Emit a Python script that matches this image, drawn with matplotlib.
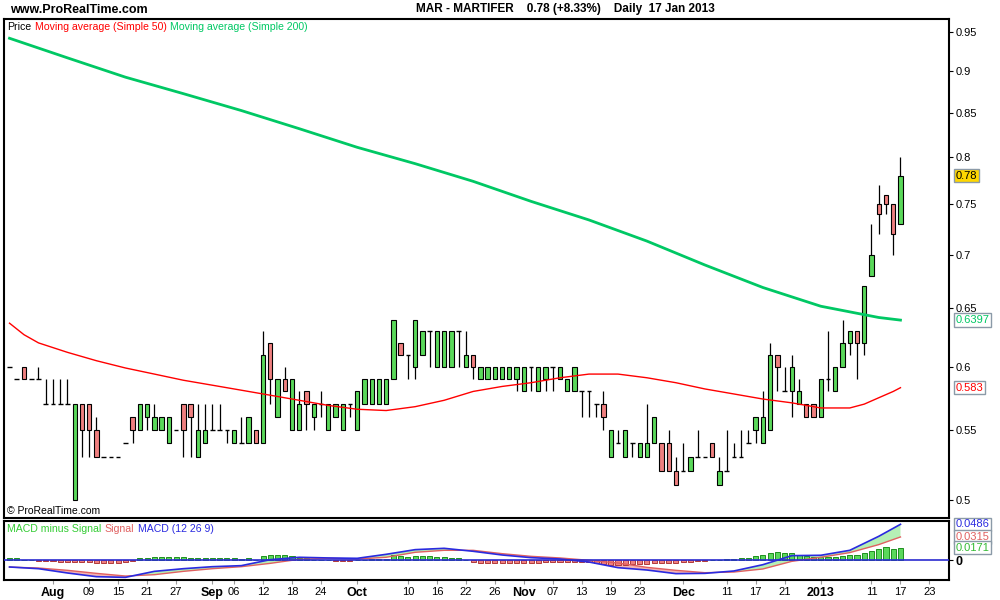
import numpy as np
import matplotlib
matplotlib.use("Agg")
import matplotlib.pyplot as plt
import matplotlib.transforms as mtrans
from matplotlib.ticker import FixedLocator, FixedFormatter, NullLocator, NullFormatter
from matplotlib.offsetbox import TextArea, HPacker, AnchoredOffsetbox

plt.rcParams['font.family'] = ['Liberation Sans', 'DejaVu Sans']

# Daily candles, MAR - MARTIFER, late Jul 2012 .. 17 Jan 2013
opens = [
    0.60, 0.59, 0.60, 0.59, 0.59, 0.57, 0.57, 0.57, 0.57, 0.50,
    0.57, 0.57, 0.55, 0.53, 0.53, 0.53, 0.54, 0.56, 0.55, 0.56,
    0.55, 0.55, 0.54, 0.55, 0.57, 0.57, 0.53, 0.54, 0.55, 0.55,
    0.55, 0.54, 0.54, 0.54, 0.55, 0.54, 0.62, 0.56, 0.59, 0.55,
    0.55, 0.58, 0.56, 0.57, 0.55, 0.56, 0.55, 0.57, 0.55, 0.57,
    0.57, 0.57, 0.57, 0.59, 0.62, 0.61, 0.60, 0.61, 0.63, 0.60,
    0.60, 0.60, 0.63, 0.60, 0.61, 0.59, 0.59, 0.59, 0.59, 0.59,
    0.59, 0.58, 0.60, 0.58, 0.59, 0.60, 0.59, 0.58, 0.58, 0.58,
    0.58, 0.57, 0.57, 0.53, 0.54, 0.53, 0.54, 0.53, 0.53, 0.54,
    0.54, 0.54, 0.52, 0.52, 0.52, 0.53, 0.53, 0.54, 0.51, 0.52,
    0.53, 0.53, 0.54, 0.55, 0.54, 0.55, 0.61, 0.58, 0.58, 0.57,
    0.57, 0.57, 0.56, 0.59, 0.58, 0.60, 0.62, 0.63, 0.62, 0.68,
    0.75, 0.76, 0.75, 0.73]
highs = [
    0.60, 0.59, 0.60, 0.59, 0.60, 0.59, 0.59, 0.59, 0.59, 0.57,
    0.57, 0.57, 0.56, 0.53, 0.53, 0.53, 0.54, 0.56, 0.57, 0.57,
    0.57, 0.56, 0.56, 0.55, 0.57, 0.57, 0.57, 0.57, 0.57, 0.57,
    0.55, 0.55, 0.56, 0.56, 0.55, 0.63, 0.62, 0.59, 0.60, 0.59,
    0.58, 0.58, 0.57, 0.58, 0.57, 0.57, 0.57, 0.57, 0.58, 0.59,
    0.59, 0.59, 0.59, 0.64, 0.62, 0.61, 0.64, 0.63, 0.63, 0.63,
    0.63, 0.63, 0.63, 0.63, 0.61, 0.60, 0.60, 0.60, 0.60, 0.60,
    0.60, 0.60, 0.60, 0.60, 0.60, 0.60, 0.60, 0.59, 0.60, 0.58,
    0.58, 0.57, 0.58, 0.55, 0.55, 0.55, 0.54, 0.54, 0.57, 0.56,
    0.54, 0.55, 0.53, 0.54, 0.53, 0.55, 0.53, 0.54, 0.53, 0.55,
    0.54, 0.55, 0.55, 0.56, 0.58, 0.62, 0.61, 0.60, 0.61, 0.59,
    0.57, 0.57, 0.59, 0.63, 0.60, 0.64, 0.63, 0.63, 0.67, 0.73,
    0.77, 0.76, 0.75, 0.80]
lows = [
    0.60, 0.59, 0.59, 0.59, 0.59, 0.57, 0.57, 0.57, 0.57, 0.50,
    0.53, 0.53, 0.53, 0.53, 0.53, 0.53, 0.54, 0.54, 0.55, 0.55,
    0.55, 0.55, 0.54, 0.55, 0.53, 0.53, 0.53, 0.54, 0.55, 0.55,
    0.54, 0.54, 0.54, 0.54, 0.54, 0.54, 0.57, 0.56, 0.58, 0.55,
    0.55, 0.55, 0.55, 0.56, 0.55, 0.56, 0.55, 0.56, 0.55, 0.57,
    0.57, 0.57, 0.57, 0.59, 0.61, 0.59, 0.59, 0.61, 0.60, 0.60,
    0.60, 0.60, 0.60, 0.60, 0.59, 0.59, 0.59, 0.59, 0.59, 0.59,
    0.58, 0.58, 0.58, 0.58, 0.58, 0.58, 0.59, 0.58, 0.58, 0.56,
    0.56, 0.56, 0.55, 0.53, 0.54, 0.53, 0.53, 0.53, 0.53, 0.54,
    0.52, 0.52, 0.51, 0.52, 0.52, 0.53, 0.53, 0.53, 0.51, 0.52,
    0.53, 0.53, 0.54, 0.54, 0.54, 0.55, 0.58, 0.58, 0.56, 0.57,
    0.56, 0.56, 0.56, 0.58, 0.58, 0.60, 0.61, 0.59, 0.61, 0.68,
    0.72, 0.74, 0.70, 0.73]
closes = [
    0.60, 0.59, 0.59, 0.59, 0.59, 0.57, 0.57, 0.57, 0.57, 0.57,
    0.55, 0.55, 0.53, 0.53, 0.53, 0.53, 0.54, 0.55, 0.57, 0.57,
    0.56, 0.56, 0.56, 0.55, 0.55, 0.56, 0.55, 0.55, 0.55, 0.55,
    0.55, 0.55, 0.54, 0.56, 0.54, 0.61, 0.59, 0.59, 0.58, 0.59,
    0.57, 0.57, 0.57, 0.57, 0.57, 0.57, 0.57, 0.57, 0.58, 0.59,
    0.59, 0.59, 0.59, 0.64, 0.61, 0.61, 0.64, 0.63, 0.63, 0.63,
    0.63, 0.63, 0.63, 0.61, 0.60, 0.60, 0.60, 0.60, 0.60, 0.60,
    0.60, 0.60, 0.60, 0.60, 0.60, 0.60, 0.60, 0.59, 0.60, 0.58,
    0.58, 0.57, 0.56, 0.55, 0.54, 0.55, 0.54, 0.54, 0.54, 0.56,
    0.52, 0.52, 0.51, 0.52, 0.53, 0.53, 0.53, 0.53, 0.52, 0.52,
    0.53, 0.53, 0.54, 0.56, 0.56, 0.61, 0.60, 0.58, 0.60, 0.58,
    0.56, 0.56, 0.59, 0.59, 0.60, 0.62, 0.63, 0.62, 0.67, 0.70,
    0.74, 0.75, 0.72, 0.78]

# moving averages (bar index, value)
ma50_idx = [0, 2, 4, 8, 12, 16, 20, 24, 28, 32, 36, 40, 44, 48, 52, 56, 60, 64,
            68, 72, 76, 80, 84, 88, 92, 96, 100, 104, 108, 112, 116, 118, 120, 122, 123]
ma50 = [0.637, 0.627, 0.620, 0.612, 0.605, 0.599, 0.594, 0.589, 0.585, 0.581,
        0.577, 0.573, 0.569, 0.566, 0.565, 0.568, 0.573, 0.580, 0.584, 0.587,
        0.591, 0.594, 0.594, 0.591, 0.587, 0.582, 0.578, 0.574, 0.571, 0.567,
        0.567, 0.570, 0.575, 0.580, 0.583]
ma200_idx = [0, 8, 16, 24, 32, 40, 48, 56, 64, 72, 80, 88, 96, 104, 112, 120, 123]
ma200 = [0.942, 0.917, 0.893, 0.873, 0.853, 0.832, 0.811, 0.793, 0.774, 0.753,
         0.734, 0.713, 0.690, 0.669, 0.652, 0.642, 0.6397]

# MACD (12 26 9)
macd_idx = [0, 4, 8, 12, 16, 20, 24, 28, 32, 36, 40, 44, 48, 52, 56, 60, 64, 68,
            72, 76, 80, 84, 88, 92, 96, 100, 104, 108, 112, 116, 120, 123]
macd = [-0.0090, -0.0113, -0.0171, -0.0221, -0.0230, -0.0149, -0.0113, -0.0086,
        -0.0072, 0.0009, 0.0041, 0.0032, 0.0027, 0.0081, 0.0144, 0.0162, 0.0122,
        0.0072, 0.0036, 0.0018, -0.0023, -0.0099, -0.0131, -0.0180, -0.0176,
        -0.0144, -0.0059, 0.0063, 0.0068, 0.0135, 0.0324, 0.0486]
signal = [-0.0092, -0.0104, -0.0135, -0.0176, -0.0212, -0.0194, -0.0149, -0.0113,
          -0.0086, -0.0041, 0.0014, 0.0027, 0.0018, 0.0041, 0.0108, 0.0135, 0.0135,
          0.0090, 0.0054, 0.0032, 0.0000, -0.0036, -0.0095, -0.0135, -0.0167,
          -0.0158, -0.0117, -0.0014, 0.0041, 0.0104, 0.0212, 0.0315]
hist = [
    0.0027, 0.0027, 0.0004, 0.0003, -0.0004, -0.0007, -0.0014, -0.0018, -0.0020, -0.0020,
    -0.0027, -0.0027, -0.0041, -0.0041, -0.0041, -0.0041, -0.0027, -0.0004, 0.0027, 0.0037,
    0.0041, 0.0041, 0.0041, 0.0041, 0.0041, 0.0037, 0.0031, 0.0031, 0.0027, 0.0027,
    0.0027, 0.0027, 0.0018, 0.0027, 0.0007, 0.0058, 0.0078, 0.0078, 0.0078, 0.0054,
    0.0037, 0.0037, 0.0010, 0.0004, 0.0003, -0.0003, -0.0004, -0.0004, 0.0004, 0.0007,
    0.0014, 0.0018, 0.0014, 0.0068, 0.0054, 0.0041, 0.0054, 0.0054, 0.0054, 0.0045,
    0.0045, 0.0031, 0.0031, 0.0004, -0.0027, -0.0037, -0.0037, -0.0041, -0.0041, -0.0041,
    -0.0041, -0.0041, -0.0031, -0.0031, -0.0027, -0.0027, -0.0023, -0.0018, -0.0018, -0.0023,
    -0.0027, -0.0037, -0.0045, -0.0064, -0.0064, -0.0058, -0.0054, -0.0050, -0.0045, -0.0037,
    -0.0037, -0.0031, -0.0031, -0.0027, -0.0023, -0.0010, -0.0003, 0.0003, 0.0005, 0.0014,
    0.0014, 0.0027, 0.0027, 0.0054, 0.0068, 0.0095, 0.0109, 0.0095, 0.0095, 0.0078,
    0.0054, 0.0041, 0.0041, 0.0041, 0.0041, 0.0054, 0.0068, 0.0068, 0.0095, 0.0122,
    0.0150, 0.0177, 0.0150, 0.0171]

# x axis labels and the bar index they sit on
tick_labels = ["Aug", "09", "15", "21", "27", "Sep", "06", "12", "18", "24", "Oct",
               "10", "16", "22", "26", "Nov", "07", "13", "19", "23", "Dec", "11",
               "17", "21", "2013", "11", "17", "23"]
tick_idx = [6, 11, 15, 19, 23, 28, 31, 35, 39, 43, 48, 55, 59, 63, 67, 71, 75, 79,
            83, 87, 93, 99, 103, 107, 112, 119, 123, 127]
months = ["Aug", "Sep", "Oct", "Nov", "Dec", "2013"]
price_ticks = [0.5, 0.55, 0.6, 0.65, 0.7, 0.75, 0.8, 0.85, 0.9, 0.95]

GREEN = "#5ad85a"
RED = "#ef7f7f"
MA50_C = "#ff0000"
MA200_C = "#00c864"
BLUE = "#2a2ae0"
SIG_C = "#e06060"

o = np.array(opens)
h = np.array(highs)
l = np.array(lows)
c = np.array(closes)
x = np.arange(len(c))

fig = plt.figure(figsize=(10, 6), dpi=100)
ax = fig.add_axes([0.0035, 0.1367, 0.9455, 0.8317])
axm = fig.add_axes([0.0035, 0.0328, 0.9455, 0.0989], sharex=ax)

# candles
rng = h > l
ax.vlines(x[rng], l[rng], h[rng], color="black", lw=0.9, zorder=2)
up = c > o
dn = c < o
flat = c == o
ax.bar(x[up], c[up] - o[up], bottom=o[up], width=0.6, color=GREEN,
       edgecolor="black", lw=0.8, zorder=3)
ax.bar(x[dn], o[dn] - c[dn], bottom=c[dn], width=0.6, color=RED,
       edgecolor="black", lw=0.8, zorder=3)
ax.hlines(c[flat], x[flat] - 0.32, x[flat] + 0.32, color="black", lw=1.0, zorder=3)

ax.plot(ma50_idx, ma50, color=MA50_C, lw=1.0, zorder=4)
ax.plot(ma200_idx, ma200, color=MA200_C, lw=2.0, zorder=4)

ax.set_yscale("log")
ax.set_ylim(0.4875, 0.9673)
ax.set_xlim(-0.83, 129.7)
ax.yaxis.tick_right()
ax.yaxis.set_major_locator(FixedLocator(price_ticks))
ax.yaxis.set_major_formatter(FixedFormatter([f"{t:g}" for t in price_ticks]))
ax.yaxis.set_minor_locator(NullLocator())
ax.yaxis.set_minor_formatter(NullFormatter())
ax.tick_params(axis="y", direction="out", length=3, pad=2, labelsize=8, width=0.8)
ax.tick_params(axis="x", bottom=False, labelbottom=False)
for s in ax.spines.values():
    s.set_linewidth(1.5)

# last value boxes
tr = mtrans.blended_transform_factory(ax.transAxes, ax.transData)
ax.text(1.007, c[-1], f"{c[-1]:g}", transform=tr, va="center", ha="left", fontsize=8,
        bbox=dict(boxstyle="square,pad=0.15", fc="#ffd700", ec="#8b9aa8", lw=1),
        clip_on=False, zorder=10)
ax.text(1.007, ma200[-1], f"{ma200[-1]:g}", transform=tr, va="center", ha="left",
        fontsize=8, color=MA200_C,
        bbox=dict(boxstyle="square,pad=0.15", fc="white", ec="#8b9aa8", lw=1),
        clip_on=False, zorder=10)
ax.text(1.007, ma50[-1], f"{ma50[-1]:g}", transform=tr, va="center", ha="left",
        fontsize=8, color=MA50_C,
        bbox=dict(boxstyle="square,pad=0.15", fc="white", ec="#8b9aa8", lw=1),
        clip_on=False, zorder=10)

ax.text(0.004, 0.004, "\u00a9 ProRealTime.com", transform=ax.transAxes, fontsize=7.5,
        ha="left", va="bottom")


def color_row(parts, xy, size):
    boxes = [TextArea(t, textprops=dict(color=col, fontsize=size)) for t, col in parts]
    pack = HPacker(children=boxes, align="baseline", pad=0, sep=2.5)
    ab = AnchoredOffsetbox(loc="upper left", child=pack, pad=0, borderpad=0,
                           frameon=False, bbox_to_anchor=xy,
                           bbox_transform=fig.transFigure)
    fig.add_artist(ab)


color_row([("Price", "black"), ("Moving average (Simple 50)", MA50_C),
           ("Moving average (Simple 200)", MA200_C)], (0.007, 1 - 21.5 / 600), 7.6)

# MACD panel
hv = np.array(hist)
pos = hv >= 0
axm.bar(x[pos], hv[pos], width=0.7, color=GREEN, edgecolor="#1f8f1f", lw=0.7, zorder=3)
axm.bar(x[~pos], hv[~pos], width=0.7, color=RED, edgecolor="#b03a3a", lw=0.7, zorder=3)
mi = np.array(macd_idx)
mv = np.array(macd)
sv = np.array(signal)
axm.fill_between(mi, mv, sv, where=mv >= sv, interpolate=True, color="#b5efb5", lw=0, zorder=2)
axm.fill_between(mi, mv, sv, where=mv < sv, interpolate=True, color="#f4b4b4", lw=0, zorder=2)
axm.plot(mi, sv, color=SIG_C, lw=1.0, zorder=4)
axm.plot(mi, mv, color=BLUE, lw=1.2, zorder=4)
axm.axhline(0, color="#2b2bd0", lw=1.2, zorder=4)
axm.set_ylim(-0.0270, 0.0531)
axm.yaxis.tick_right()
axm.set_yticks([0])
axm.set_yticklabels(["0"], fontweight="bold", fontsize=9)
axm.tick_params(axis="y", direction="out", length=3, pad=2, width=0.8)
for s in axm.spines.values():
    s.set_linewidth(1.5)

trm = mtrans.blended_transform_factory(axm.transAxes, axm.transData)
for val, col, z in [(macd[-1], BLUE, 10), (signal[-1], SIG_C, 11), (hist[-1], "#33bb33", 12)]:
    axm.text(1.007, val, f"{val:.4f}", transform=trm, va="center", ha="left",
             fontsize=8, color=col,
             bbox=dict(boxstyle="square,pad=0.15", fc="white", ec="#8b9aa8", lw=1),
             clip_on=False, zorder=z)

axm.set_xticks(tick_idx)
axm.set_xticklabels(tick_labels)
axm.tick_params(axis="x", direction="out", length=3, color="#999999", labelsize=8, pad=2)
for lbl in axm.get_xticklabels():
    if lbl.get_text() in months:
        lbl.set_fontweight("bold")
        lbl.set_fontsize(9)

color_row([("MACD minus Signal", "#33cc33"), ("Signal", SIG_C), ("MACD (12 26 9)", BLUE)],
          (0.007, 1 - 523.5 / 600), 7.6)

# header
fig.text(0.01, 1 - 10 / 600, "www.ProRealTime.com", fontsize=9, fontweight="bold",
         ha="left", va="center")
fig.text(0.565, 1 - 9 / 600, "MAR - MARTIFER    0.78 (+8.33%)    Daily  17 Jan 2013",
         fontsize=8.5, fontweight="bold", ha="center", va="center")

fig.savefig("out.png", dpi=100)
